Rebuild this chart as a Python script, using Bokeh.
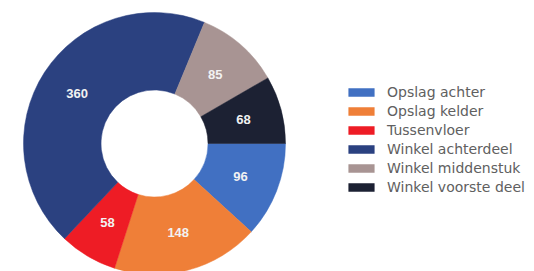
import math
from bokeh.plotting import figure
from bokeh.models import ColumnDataSource, Range1d, Legend, LegendItem
from bokeh.core.properties import value
from bokeh.embed import file_html
from bokeh.resources import INLINE

categories = ["Opslag achter", "Opslag kelder", "Tussenvloer",
              "Winkel achterdeel", "Winkel middenstuk", "Winkel voorste deel"]
values = [96, 148, 58, 360, 85, 68]
colors = ["#4170C2", "#EF7F38", "#EE1C25", "#2B4180", "#A89493", "#1C2133"]

W, H = 534, 271
cx, cy = 154, 128
r_in, r_out = 53.5, 131

total = sum(values)
starts, ends, mids = [], [], []
acc = 0
for v in values:
    a0 = -acc / total * 2 * math.pi
    acc += v
    a1 = -acc / total * 2 * math.pi
    starts.append(a0)
    ends.append(a1)
    mids.append((a0 + a1) / 2)
r_mid = (r_in + r_out) / 2
lx = [cx + r_mid * math.cos(m) for m in mids]
ly = [cy + r_mid * math.sin(m) for m in mids]

src = ColumnDataSource(dict(cat=categories, val=[str(v) for v in values],
                            start=starts, end=ends, color=colors, lx=lx, ly=ly))

p = figure(width=W, height=H, output_backend="svg", toolbar_location=None,
           x_range=Range1d(0, W), y_range=Range1d(0, H), min_border=0)
p.axis.visible = False
p.grid.visible = False
p.outline_line_color = None
p.background_fill_color = "white"

r = p.annular_wedge(x=cx, y=cy, inner_radius=r_in, outer_radius=r_out,
                    start_angle="start", end_angle="end", direction="clock",
                    fill_color="color", line_color="color", line_width=0.5, source=src)

p.text(x="lx", y="ly", text="val", source=src, text_align="center",
       text_baseline="middle", text_color="#F2F2F2", text_font=value("Liberation Sans"),
       text_font_size="13px", text_font_style="bold")

items = [LegendItem(label=c, renderers=[r], index=i) for i, c in enumerate(categories)]
legend = Legend(items=items, location=(345, 76), orientation="vertical",
                glyph_width=32, glyph_height=10, label_standoff=10,
                label_text_font="DejaVu Sans", label_text_font_size="14px",
                label_text_color="#606060", label_height=10, spacing=3,
                padding=0, margin=0, border_line_color=None,
                background_fill_alpha=0)
p.add_layout(legend, "center")

open("out.html", "w").write(file_html(p, INLINE))
